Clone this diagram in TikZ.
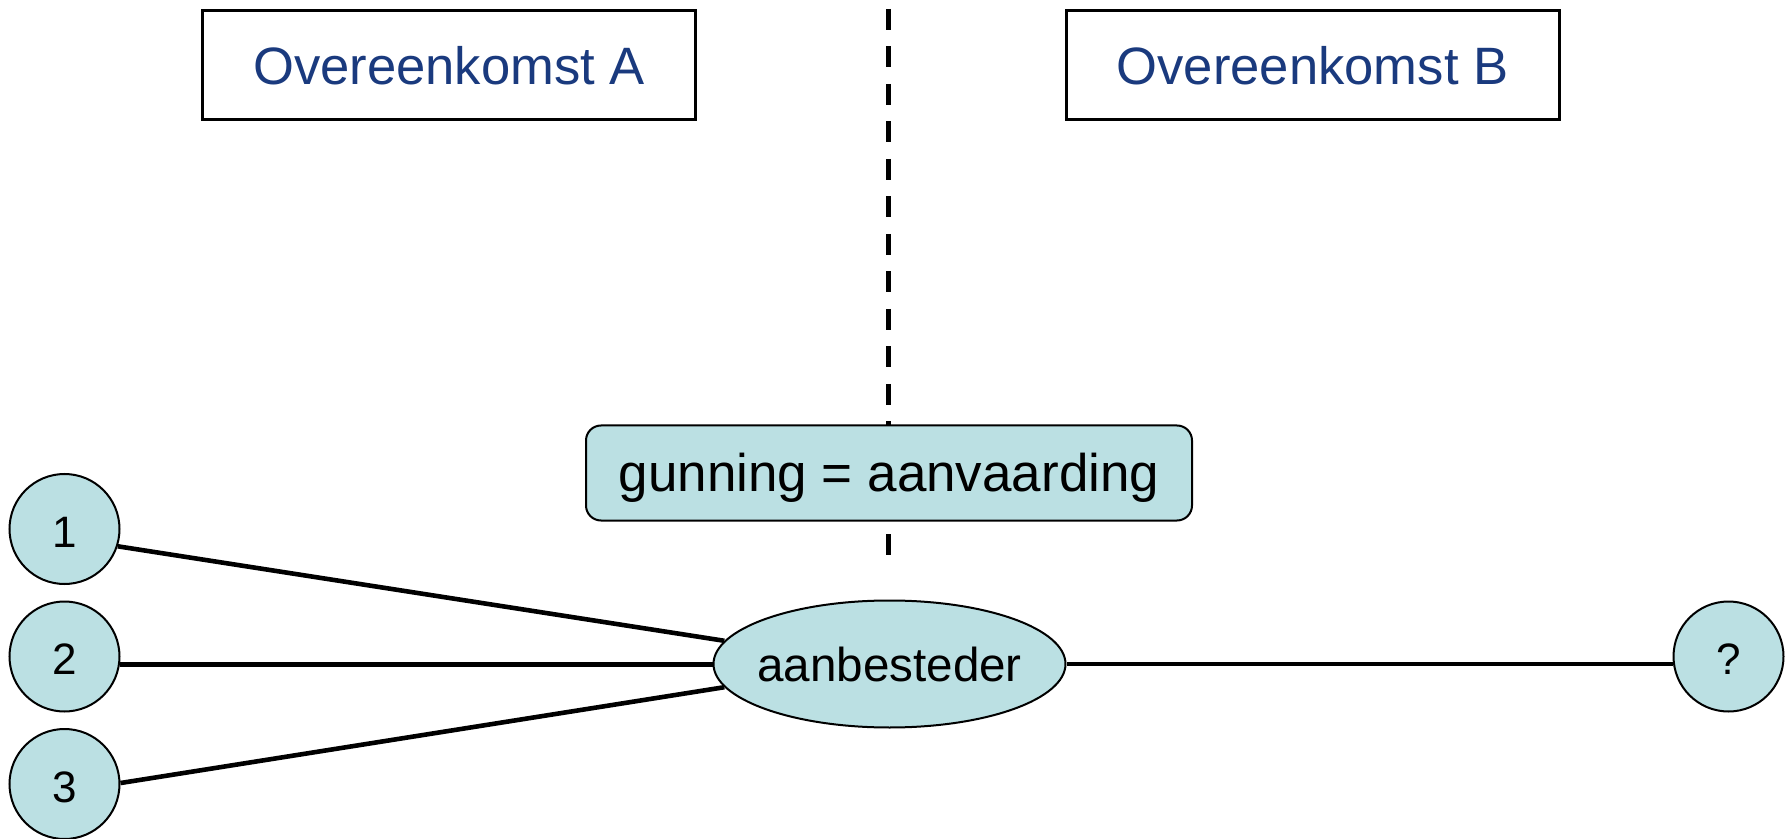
\documentclass[tikz,border=0pt]{standalone}
\usepackage{fontspec}
\setmainfont{Liberation Sans}
\usetikzlibrary{shapes.geometric}
\definecolor{fillblue}{HTML}{BBE0E3}
\definecolor{titleblue}{HTML}{1A3A7E}
\begin{document}
\begin{tikzpicture}[x=0.5pt,y=-0.5pt,
  titlebox/.style={draw=black,line width=1.5pt,fill=white,minimum width=246.5pt,minimum height=54.5pt,
    inner sep=0pt,text=titleblue,font=\fontsize{26.3}{30}\selectfont,text height=20pt,text depth=0pt},
  rulebox/.style={draw=black,line width=1pt,fill=fillblue,rounded corners=7.5pt,minimum width=303pt,minimum height=47.5pt,
    inner sep=0pt,font=\fontsize{26.5}{30}\selectfont,text height=18.5pt,text depth=0pt},
  partyell/.style={ellipse,draw=black,line width=1pt,fill=fillblue,minimum width=176pt,minimum height=63.5pt,
    inner ysep=0pt,inner xsep=-8pt,font=\fontsize{23.8}{28}\selectfont,text height=17.8pt,text depth=0pt},
  bidder/.style={circle,draw=black,line width=1pt,fill=fillblue,minimum size=55pt,
    inner sep=0pt,font=\fontsize{22}{26}\selectfont,text height=18pt,text depth=0pt},
  link/.style={draw=black,line width=2.3pt},
  divider/.style={draw=black,line width=2.5pt,dash pattern=on 10.5pt off 8.25pt}]
\useasboundingbox (0,0) rectangle (1788,839);
% divider
\coordinate (dtop) at (888.5,9);
\coordinate (dbot) at (888.5,555);
\draw[divider] (dtop) -- (dbot);
% nodes
\node[titlebox] (A) at (449,65) {Overeenkomst A};
\node[titlebox] (B) at (1312.5,65) {Overeenkomst B};
\node[rulebox] (g) at (889,473) {gunning = aanvaarding};
\node[partyell] (e) at (889.5,664) {aanbesteder};
\node[bidder] (c1) at (64.5,529) {1};
\node[bidder] (c2) at (64.5,656.5) {2};
\node[bidder] (c3) at (64.5,784) {3};
\node[bidder] (q) at (1728.5,656.5) {?};
% connectors
\draw[link] (c1.-18) -- (e.172.4);
\draw[link] (c2.-8) -- (c2.-8 -| e.west);
\draw[link] (c3.1) -- (e.188);
\draw[link] (e.east) -- (e.east -| q.west);
\end{tikzpicture}
\end{document}
